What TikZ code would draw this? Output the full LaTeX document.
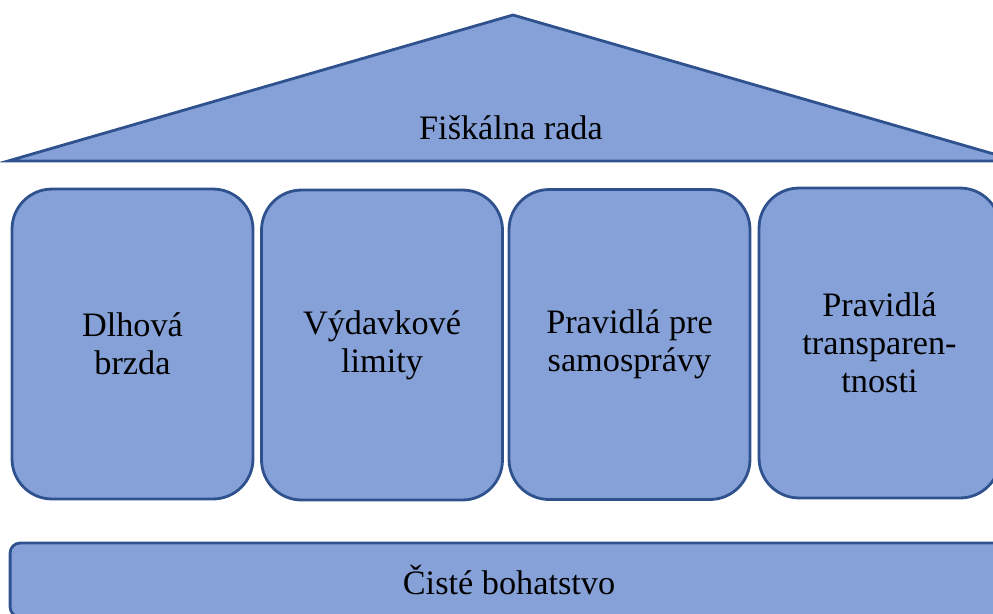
\documentclass[tikz,border=0pt]{standalone}
\usepackage{fontspec}
\setmainfont{Liberation Serif}
\usepackage{tikz}
\usetikzlibrary{positioning}
\definecolor{panelfill}{RGB}{133,161,216}
\definecolor{paneledge}{RGB}{47,82,143}

\begin{document}
\begin{tikzpicture}[x=0.02cm, y=-0.02cm,
		part/.style={fill=panelfill, draw=paneledge, line width=1.6pt},
		pillar/.style={part, rectangle, rounded corners=0.8cm, minimum width=4.82cm, minimum height=6.2cm, align=center, font=\fontsize{19.5}{21.5}\selectfont},
		label/.style={font=\fontsize{19.5}{21.5}\selectfont}]
		\useasboundingbox (0,0) rectangle (993,613);
		\clip (0,0) rectangle (993,613);
		% roof
		\coordinate (apex) at (513,15);
		\coordinate (eaveleft) at (8,161);
		\coordinate (eaveright) at (1018,161);
		\draw[part, line join=miter] (eaveleft) -- (apex) -- (eaveright) -- cycle;
		\node[label] (roof) at (511,128) {Fiškálna rada};
		% pillars
		\node[pillar] (debt) at (132.5,344) {Dlhová\\brzda};
		\node[pillar] (spend) at (382,345) {Výdavkové\\limity};
		\node[pillar] (local) at (629.5,344.5) {Pravidlá pre\\samosprávy};
		\node[pillar] (transp) at (879.5,343) {Pravidlá\\transparen-\\tnosti};
		% foundation
		\node[part, rectangle, rounded corners=0.2cm, minimum width=19.96cm, minimum height=1.48cm, label] (base) at (509,580) {Čisté bohatstvo};
	\end{tikzpicture}
\end{document}
